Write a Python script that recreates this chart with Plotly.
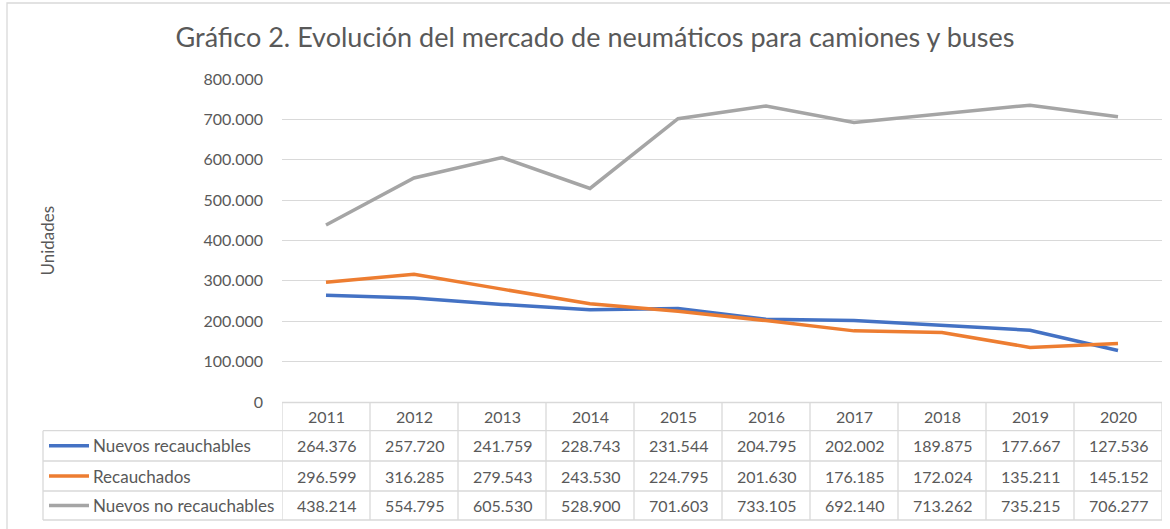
import plotly.graph_objects as go

years = ["2011", "2012", "2013", "2014", "2015", "2016", "2017", "2018", "2019", "2020"]
series_names = ["Nuevos recauchables", "Recauchados", "Nuevos no recauchables"]
nuevos_recauchables = [264376, 257720, 241759, 228743, 231544, 204795, 202002, 189875, 177667, 127536]
recauchados = [296599, 316285, 279543, 243530, 224795, 201630, 176185, 172024, 135211, 145152]
nuevos_no_recauchables = [438214, 554795, 605530, 528900, 701603, 733105, 692140, 713262, 735215, 706277]
y_ticks = [0, 100000, 200000, 300000, 400000, 500000, 600000, 700000, 800000]
title_text = "Gráfico 2. Evolución del mercado de neumáticos para camiones y buses"
y_title = "Unidades"

colors = ["#4472C4", "#ED7D31", "#A5A5A5"]
all_series = [nuevos_recauchables, recauchados, nuevos_no_recauchables]

W, H = 1170, 529
L, R, T, B = 282, 1162, 79, 402
PW, PH = R - L, B - T


def px(xp):
    return (xp - L) / PW


def py(yp):
    return (B - yp) / PH


def fmt(v):
    return f"{v:,}".replace(",", ".")


FONT = "Lato, 'Open Sans', sans-serif"
TXT = "#595959"
GRID = "#D9D9D9"

fig = go.Figure()
for name, vals, c in zip(series_names, all_series, colors):
    fig.add_trace(go.Scatter(x=years, y=vals, name=name, mode="lines",
                             line=dict(color=c, width=3.5), showlegend=False))

shapes = []
annotations = []

row_edges = [402.5, 430.7, 461, 491, 520]
left_px = 43

shapes.append(dict(type="line", xref="x", yref="paper", x0=-0.5, x1=len(years) - 0.5,
                   y0=py(row_edges[0]), y1=py(row_edges[0]), line=dict(color=GRID, width=1.3)))
for ye in row_edges[1:]:
    shapes.append(dict(type="line", xref="paper", yref="paper", x0=px(left_px), x1=1,
                       y0=py(ye), y1=py(ye), line=dict(color=GRID, width=1.3)))
for i in range(len(years) + 1):
    shapes.append(dict(type="line", xref="x", yref="paper", x0=i - 0.5, x1=i - 0.5,
                       y0=py(row_edges[0]), y1=py(row_edges[-1]), line=dict(color=GRID, width=1.3)))
shapes.append(dict(type="line", xref="paper", yref="paper", x0=px(left_px), x1=px(left_px),
                   y0=py(row_edges[1]), y1=py(row_edges[-1]), line=dict(color=GRID, width=1.3)))

hdr_c = (row_edges[0] + row_edges[1]) / 2
for i, yr in enumerate(years):
    annotations.append(dict(x=i, y=py(hdr_c), xref="x", yref="paper", text=yr, showarrow=False,
                            font=dict(family=FONT, size=16, color=TXT), xanchor="center", yanchor="middle"))

for r, (name, vals, c) in enumerate(zip(series_names, all_series, colors)):
    yc = (row_edges[r + 1] + row_edges[r + 2]) / 2
    shapes.append(dict(type="line", xref="paper", yref="paper", x0=px(49), x1=px(89),
                       y0=py(yc), y1=py(yc), line=dict(color=c, width=3.5)))
    annotations.append(dict(x=px(91), y=py(yc), xref="paper", yref="paper", text=name, showarrow=False,
                            font=dict(family=FONT, size=17, color=TXT), xanchor="left", yanchor="middle"))
    for i, v in enumerate(vals):
        annotations.append(dict(x=i, y=py(yc), xref="x", yref="paper", text=fmt(v), showarrow=False,
                                font=dict(family=FONT, size=16, color=TXT), xanchor="center", yanchor="middle"))

annotations.append(dict(x=px(47), y=0.5, xref="paper", yref="paper", text=y_title, showarrow=False,
                        textangle=-90, font=dict(family=FONT, size=17, color=TXT),
                        xanchor="center", yanchor="middle"))

shapes.append(dict(type="rect", xref="paper", yref="paper", x0=px(7), x1=px(1190),
                   y0=py(3), y1=py(560), line=dict(color=GRID, width=1.3), layer="below"))

fig.update_layout(
    width=W, height=H,
    margin=dict(l=L, r=W - R, t=T, b=H - B),
    paper_bgcolor="white", plot_bgcolor="white",
    separators=",.",
    title=dict(text=title_text, x=595 / W, xanchor="center", y=1 - 38 / H, yanchor="middle",
               font=dict(family=FONT, size=27, color=TXT)),
    xaxis=dict(type="category", range=[-0.5, len(years) - 0.5], showticklabels=False,
               showgrid=False, zeroline=False, showline=False, ticks=""),
    yaxis=dict(range=[0, 800000], tickvals=y_ticks, tickformat=",d", showgrid=True,
               gridcolor=GRID, gridwidth=1.3, zeroline=False, showline=False, ticks="",
               ticklabelstandoff=18, tickfont=dict(family=FONT, size=16, color=TXT)),
    shapes=shapes, annotations=annotations,
)

fig.write_html("out.html", config={"displayModeBar": False},
               post_script="document.body.style.margin='0';document.body.style.overflow='hidden';")
